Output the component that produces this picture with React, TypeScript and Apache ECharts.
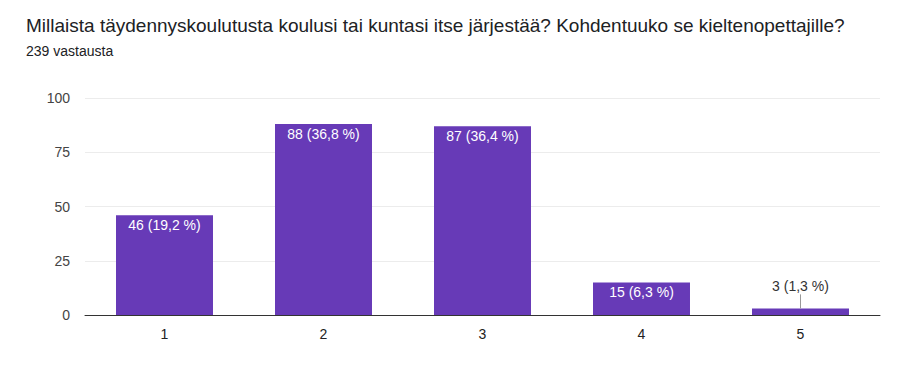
import React, { useEffect, useRef } from "react";
import * as echarts from "echarts";

const categories = ["1", "2", "3", "4", "5"];
const counts = [46, 88, 87, 15, 3];
const percents = ["19,2", "36,8", "36,4", "6,3", "1,3"];
const yTicks = [0, 25, 50, 75, 100];

const titleText = "Millaista täydennyskoulutusta koulusi tai kuntasi itse järjestää? Kohdentuuko se kieltenopettajille?";
const subtitleText = "239 vastausta";

const FONT = "'Liberation Sans', Arial, sans-serif";
const SMALL_LIMIT = 10; // bars shorter than this get the label outside, with a leader line
const LEADER = 6.5; // leader length, in value units

export default function App() {
  const ref = useRef<HTMLDivElement>(null);
  useEffect(() => {
    document.body.style.margin = "0";
    const chart = echarts.init(ref.current!, null, { renderer: "svg" });
    const data = counts.map((v) => {
      const item: any = { value: v };
      if (v < SMALL_LIMIT) {
        item.label = { position: "top", color: "#333", distance: 15 };
      }
      return item;
    });
    const leaders = counts
      .map((v, i) => ({ v, i }))
      .filter((d) => d.v < SMALL_LIMIT)
      .map((d) => [
        { coord: [categories[d.i], d.v] },
        { coord: [categories[d.i], d.v + LEADER] },
      ]);
    chart.setOption({
      animation: false,
      backgroundColor: "#fff",
      textStyle: { fontFamily: FONT },
      title: {
        text: titleText,
        subtext: subtitleText,
        left: 26,
        top: 16,
        padding: 0,
        itemGap: 9,
        textStyle: { fontSize: 19, fontWeight: "normal", color: "#202124", fontFamily: FONT },
        subtextStyle: { fontSize: 14, color: "#202124", fontFamily: FONT },
      },
      grid: { left: 85, right: 24, top: 98, bottom: 58 },
      xAxis: {
        type: "category",
        data: categories,
        axisTick: { show: false },
        axisLine: { lineStyle: { color: "#333", width: 1 } },
        axisLabel: { color: "#222", fontSize: 14, margin: 12, fontFamily: FONT },
      },
      yAxis: {
        type: "value",
        min: yTicks[0],
        max: yTicks[yTicks.length - 1],
        interval: 25,
        axisLabel: { color: "#444", fontSize: 14, margin: 15, fontFamily: FONT },
        splitLine: { lineStyle: { color: "#ececec" } },
        axisLine: { show: false },
        axisTick: { show: false },
      },
      series: [
        {
          type: "bar",
          data,
          barWidth: "61%",
          itemStyle: { color: "#673ab7" },
          label: {
            show: true,
            position: "insideTop",
            distance: 3,
            color: "#fff",
            fontSize: 14,
            fontFamily: FONT,
            formatter: (p: any) => `${counts[p.dataIndex]} (${percents[p.dataIndex]} %)`,
          },
          markLine: {
            silent: true,
            symbol: "none",
            label: { show: false },
            lineStyle: { color: "#999", width: 1, type: "solid" },
            data: leaders,
          },
        },
      ],
    });
    return () => chart.dispose();
  }, []);
  return <div ref={ref} style={{ width: 904, height: 373 }} />;
}
